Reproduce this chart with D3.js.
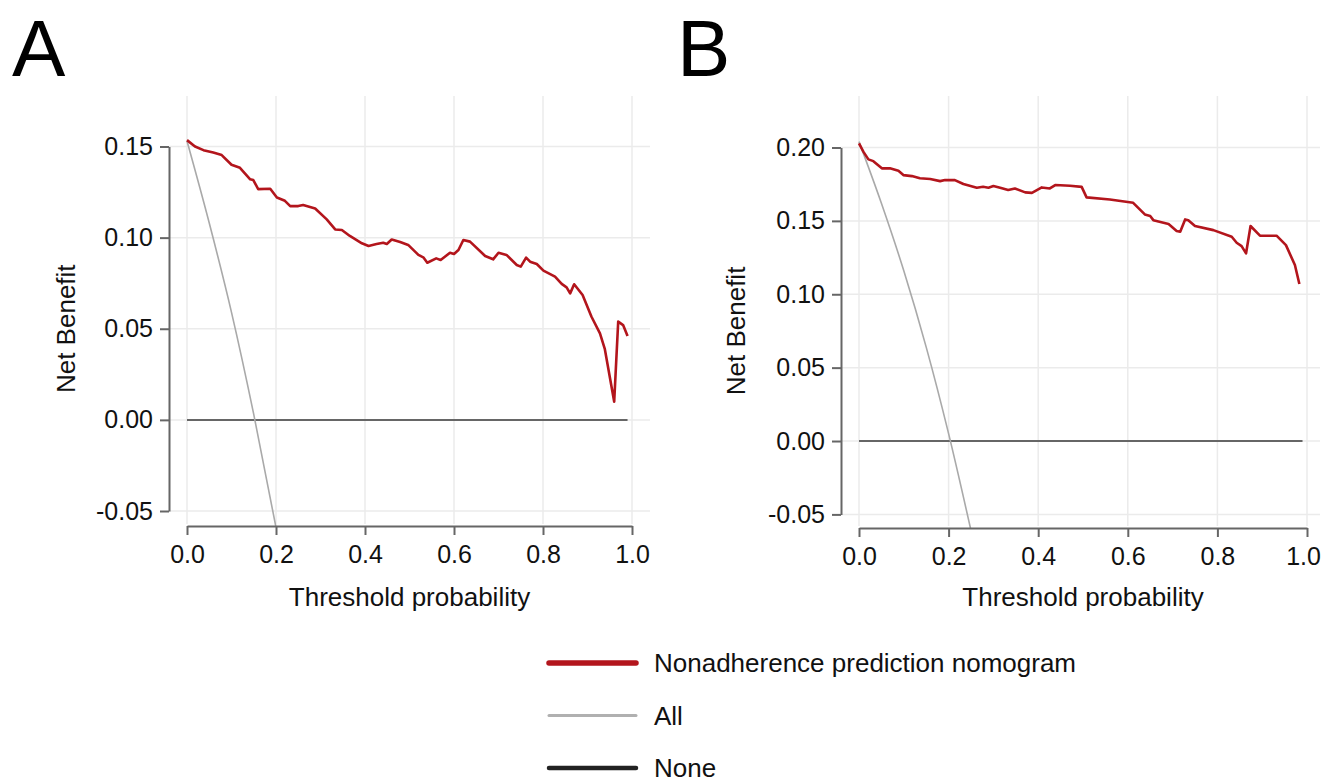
<!DOCTYPE html>
<html>
<head>
<meta charset="utf-8">
<script src="https://cdn.jsdelivr.net/npm/d3@7"></script>
<style>
  body { margin: 0; background: #fff; }
  svg { display: block; font-family: 'Liberation Sans', Arial, sans-serif; }
  .grid line { stroke: #ebebeb; stroke-width: 1.5; }
  .axis path, .axis line { stroke: #666; stroke-width: 2; }
  .axis text { font-size: 25px; fill: #111; }
  .title { font-size: 26px; fill: #111; }
  .panel-label { font-size: 80px; fill: #000; }
  .legend text { font-size: 26px; fill: #111; }
</style>
</head>
<body>
<div id="chart"></div>
<script>
'use strict';
// decision curves (threshold probability, net benefit)
const xTicks = [0, 0.2, 0.4, 0.6, 0.8, 1.0]
const yTicksA = [-0.05, 0, 0.05, 0.10, 0.15]
const yTicksB = [-0.05, 0, 0.05, 0.10, 0.15, 0.20]

const modelA = [
  [0, 0.1535], [0.018, 0.150], [0.037, 0.148], [0.059, 0.1467], [0.078, 0.1453],
  [0.100, 0.140], [0.119, 0.1383], [0.142, 0.132], [0.149, 0.1316], [0.160, 0.1266],
  [0.187, 0.1268], [0.202, 0.122], [0.220, 0.1202], [0.232, 0.1173], [0.250, 0.1173],
  [0.261, 0.1179], [0.288, 0.116], [0.314, 0.110], [0.333, 0.1045], [0.348, 0.1042],
  [0.366, 0.1009], [0.393, 0.0969], [0.408, 0.0954], [0.426, 0.0965], [0.441, 0.0972],
  [0.449, 0.0965], [0.460, 0.099], [0.479, 0.0976], [0.497, 0.096], [0.520, 0.0905],
  [0.531, 0.0892], [0.540, 0.0862], [0.560, 0.0886], [0.570, 0.0877], [0.591, 0.0917],
  [0.600, 0.091], [0.610, 0.0932], [0.621, 0.0987], [0.636, 0.0978], [0.670, 0.0899],
  [0.688, 0.0881], [0.700, 0.0917], [0.718, 0.0905], [0.741, 0.085], [0.750, 0.0841],
  [0.762, 0.089], [0.771, 0.0868], [0.786, 0.0855], [0.801, 0.0819], [0.827, 0.0786],
  [0.842, 0.0746], [0.853, 0.0727], [0.861, 0.0694], [0.870, 0.0744], [0.889, 0.0685],
  [0.909, 0.0566], [0.928, 0.0475], [0.939, 0.0388], [0.960, 0.010], [0.969, 0.0539],
  [0.980, 0.052], [0.990, 0.046]
]
const allA = [[0, 0.153], [0.05, 0.108], [0.10, 0.059], [0.15, 0.003], [0.20, -0.059]]
const noneA = [[0, 0], [0.99, 0]]

const modelB = [
  [0, 0.2028], [0.010, 0.197], [0.021, 0.1919], [0.032, 0.1907], [0.051, 0.1858],
  [0.069, 0.1858], [0.088, 0.1841], [0.099, 0.1812], [0.118, 0.1805], [0.136, 0.179],
  [0.159, 0.1785], [0.181, 0.1771], [0.192, 0.1778], [0.214, 0.1778], [0.233, 0.1751],
  [0.263, 0.1726], [0.277, 0.1732], [0.289, 0.1726], [0.300, 0.1737], [0.315, 0.1726],
  [0.333, 0.171], [0.348, 0.1721], [0.371, 0.1694], [0.386, 0.1691], [0.408, 0.1728],
  [0.426, 0.1721], [0.438, 0.1744], [0.471, 0.1739], [0.497, 0.1732], [0.508, 0.166],
  [0.560, 0.1646], [0.612, 0.1623], [0.638, 0.1544], [0.650, 0.1533], [0.657, 0.1505],
  [0.691, 0.1478], [0.709, 0.1431], [0.717, 0.1426], [0.728, 0.151], [0.735, 0.1505],
  [0.750, 0.1465], [0.791, 0.1437], [0.832, 0.1392], [0.843, 0.1351], [0.854, 0.1328],
  [0.864, 0.1279], [0.874, 0.1465], [0.895, 0.1399], [0.932, 0.1399], [0.953, 0.1335],
  [0.973, 0.1199], [0.983, 0.107]
]
const allB = [[0, 0.204], [0.05, 0.162], [0.10, 0.116], [0.15, 0.064], [0.20, 0.005], [0.25, -0.061]]
const noneB = [[0, 0], [0.99, 0]]

const legendLabels = ['Nonadherence prediction nomogram', 'All', 'None']
const colors = { model: '#b3151c', all: '#a9a9a9', none: '#666' }

const W = 1323, H = 783
const svg = d3.select('#chart').append('svg')
    .attr('width', W)
    .attr('height', H)

function drawPanel(cfg) {
    const x = d3.scaleLinear().domain([0, 1]).range(cfg.xRange)
    const y = d3.scaleLinear().domain([-0.05, cfg.yMax]).range(cfg.yRange)
    const g = svg.append('g')
    const clipId = 'clip-' + cfg.name
    g.append('clipPath').attr('id', clipId)
        .append('rect')
        .attr('x', cfg.gridLeft)
        .attr('y', cfg.gridTop)
        .attr('width', cfg.gridRight - cfg.gridLeft)
        .attr('height', cfg.axisY - cfg.gridTop)

    g.append('g').attr('class', 'grid') // vertical gridlines
        .selectAll('line').data(xTicks).enter().append('line')
        .attr('x1', d => x(d)).attr('x2', d => x(d))
        .attr('y1', cfg.gridTop).attr('y2', cfg.axisY - 2)
    g.append('g').attr('class', 'grid') // horizontal gridlines
        .selectAll('line').data(cfg.yTicks).enter().append('line')
        .attr('x1', cfg.gridLeft).attr('x2', cfg.gridRight)
        .attr('y1', d => y(d)).attr('y2', d => y(d))

    const line = d3.line().x(d => x(d[0])).y(d => y(d[1]))
    g.append('path').datum(cfg.none) // treat none
        .attr('fill', 'none').attr('stroke', colors.none).attr('stroke-width', 2)
        .attr('d', line)
    g.append('path').datum(cfg.all) // treat all
        .attr('fill', 'none').attr('stroke', colors.all).attr('stroke-width', 1.6)
        .attr('clip-path', `url(#${clipId})`)
        .attr('d', d3.line().curve(d3.curveMonotoneX).x(d => x(d[0])).y(d => y(d[1])))
    g.append('path').datum(cfg.model) // nomogram
        .attr('fill', 'none').attr('stroke', colors.model).attr('stroke-width', 2.6)
        .attr('stroke-linejoin', 'round')
        .attr('d', line)

    g.append('g') // y axis
        .attr('class', 'axis')
        .attr('transform', `translate(${cfg.gridLeft},0)`)
        .call(d3.axisLeft(y).tickValues(cfg.yTicks).tickFormat(d3.format('.2f'))
            .tickSize(9).tickSizeOuter(0).tickPadding(7))
    const xAxis = g.append('g') // x axis
        .attr('class', 'axis')
        .attr('transform', `translate(0,${cfg.axisY})`)
        .call(d3.axisBottom(x).tickValues(xTicks).tickFormat(d3.format('.1f'))
            .tickSize(9).tickSizeOuter(0).tickPadding(10))
    xAxis.selectAll('text').filter(d => d === 1).attr('dx', cfg.lastTickShift || 0)
    g.selectAll('.axis text').text(function() { return this.textContent.replace('−', '-') })

    g.append('text') // y title
        .attr('class', 'title')
        .attr('transform', `translate(${cfg.yTitleX},${(cfg.yRange[0] + cfg.yRange[1]) / 2}) rotate(-90)`)
        .attr('text-anchor', 'middle')
        .text('Net Benefit')
    g.append('text') // x title
        .attr('class', 'title')
        .attr('x', (cfg.xRange[0] + cfg.xRange[1]) / 2)
        .attr('y', 606)
        .attr('text-anchor', 'middle')
        .text('Threshold probability')
    g.append('text') // panel letter
        .attr('class', 'panel-label')
        .attr('x', cfg.letterX)
        .attr('y', 76)
        .text(cfg.name)
}

drawPanel({
    name: 'A', xRange: [187, 632], yRange: [511, 146.5], yMax: 0.15, yTicks: yTicksA,
    gridLeft: 169, gridRight: 650, gridTop: 96, axisY: 526, yTitleX: 75, letterX: 12,
    model: modelA, all: allA, none: noneA
})
drawPanel({
    name: 'B', xRange: [859, 1307], yRange: [514.4, 147.5], yMax: 0.20, yTicks: yTicksB,
    gridLeft: 841, gridRight: 1320, gridTop: 96, axisY: 528, yTitleX: 745, letterX: 677,
    lastTickShift: -4, model: modelB, all: allB, none: noneB
})

// legend
const legendColors = [colors.model, '#b0b0b0', '#222']
const legendWidths = [5.5, 3, 4.5]
const ly = d3.scalePoint().domain(legendLabels).range([663, 768])
const legend = svg.append('g').attr('class', 'legend')
legend.selectAll('line').data(legendLabels).enter().append('line')
    .attr('x1', 549).attr('x2', 636)
    .attr('y1', d => ly(d)).attr('y2', d => ly(d))
    .attr('stroke', (d, i) => legendColors[i])
    .attr('stroke-width', (d, i) => legendWidths[i])
    .attr('stroke-linecap', 'round')
legend.selectAll('text').data(legendLabels).enter().append('text')
    .attr('x', 654)
    .attr('y', d => ly(d) + 9)
    .text(d => d)
</script>
</body>
</html>
